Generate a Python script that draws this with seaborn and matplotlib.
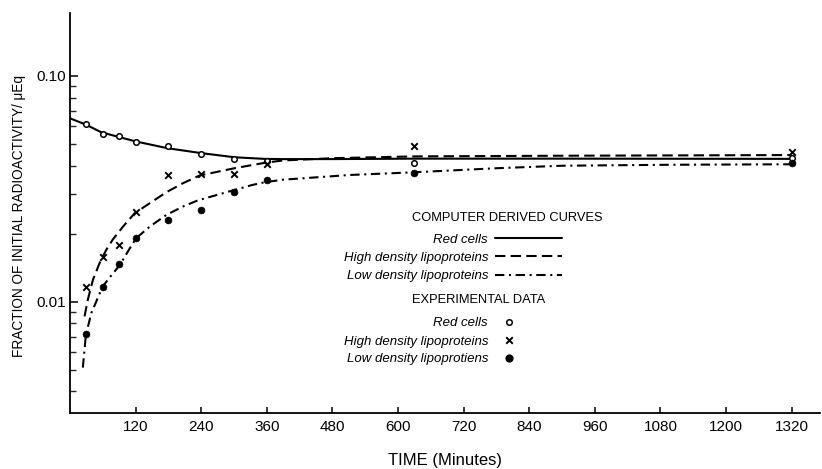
import matplotlib
matplotlib.use("Agg")
import matplotlib.pyplot as plt
import seaborn as sns
from matplotlib.ticker import FixedLocator, FixedFormatter, NullFormatter

# ---- computer derived curves ----
red_curve_t = [0, 30, 57, 91, 121, 179, 240, 301, 356, 389, 480, 630, 900, 1320]
red_curve_v = [0.0649, 0.0607, 0.0563, 0.0535, 0.0512, 0.0478, 0.0455, 0.0436,
               0.0429, 0.0428, 0.0428, 0.0430, 0.0430, 0.0429]

hdl_curve_t = [26.6, 32.6, 42, 54, 66, 78, 97, 118, 146, 176, 207, 237, 301,
               356, 389, 480, 630, 900, 1320]
hdl_curve_v = [0.0086, 0.0102, 0.0125, 0.0148, 0.0169, 0.0188, 0.0215, 0.0246,
               0.0273, 0.0305, 0.0335, 0.0362, 0.0390, 0.0412, 0.0422, 0.0432,
               0.0440, 0.0443, 0.0446]

ldl_curve_t = [23.5, 29, 39, 48, 60, 76, 91, 106, 121, 146, 176, 207, 234, 298,
               334, 356, 390, 512, 628, 781, 900, 1100, 1320]
ldl_curve_v = [0.0051, 0.0071, 0.0089, 0.0100, 0.0117, 0.0131, 0.0145, 0.0167,
               0.0191, 0.0215, 0.0242, 0.0264, 0.0281, 0.0311, 0.0329, 0.0338,
               0.0347, 0.0364, 0.0374, 0.0390, 0.0400, 0.0404, 0.0406]

# ---- experimental data ----
exp_t = [30, 60, 90, 120, 180, 240, 300, 360, 630, 1320]
red_exp = [0.0610, 0.0553, 0.0542, 0.0512, 0.0490, 0.0450, 0.0429, 0.0421, 0.0410, 0.0434]
hdl_exp = [0.0116, 0.0158, 0.0178, 0.0249, 0.0364, 0.0368, 0.0368, 0.0408, 0.0490, 0.0462]
ldl_exp = [0.0072, 0.0116, 0.0147, 0.0192, 0.0230, 0.0255, 0.0305, 0.0346, 0.0373, 0.0412]

x_ticks = [120, 240, 360, 480, 600, 720, 840, 960, 1080, 1200, 1320]
y_major = [0.01, 0.10]
y_major_labels = ["0.01", "0.10"]

sns.set_theme(style="ticks")
plt.rcParams['font.family'] = ['Liberation Sans', 'DejaVu Sans']

W, H = 822, 469
fig = plt.figure(figsize=(W / 100, H / 100), dpi=100)
AX_L, AX_R, AX_T, AX_B = 70, 820, 13, 413
ax = fig.add_axes([AX_L / W, (H - AX_B) / H, (AX_R - AX_L) / W, (AX_B - AX_T) / H])
ax.set_yscale("log")

LW = 1.5
DASH = (0, (5, 2.5))
DASHDOT = (0, (4.5, 2.2, 1.0, 2.2))

sns.lineplot(x=red_curve_t, y=red_curve_v, ax=ax, color="black", lw=LW,
             estimator=None, sort=False)
sns.lineplot(x=hdl_curve_t, y=hdl_curve_v, ax=ax, color="black", lw=LW,
             estimator=None, sort=False)
ax.lines[-1].set_linestyle(DASH)
sns.lineplot(x=ldl_curve_t, y=ldl_curve_v, ax=ax, color="black", lw=LW,
             estimator=None, sort=False)
ax.lines[-1].set_linestyle(DASHDOT)

sns.scatterplot(x=exp_t, y=red_exp, ax=ax, marker="o", s=16, facecolor="white",
                edgecolor="black", linewidth=1.1, zorder=5)
sns.scatterplot(x=exp_t, y=hdl_exp, ax=ax, marker="x", s=22, color="black",
                linewidth=1.4, zorder=5)
sns.scatterplot(x=exp_t, y=ldl_exp, ax=ax, marker="o", s=24, color="black",
                edgecolor="black", linewidth=0.5, zorder=5)

ax.set_xlim(0, 1372)
ax.set_ylim(0.00321, 0.19)

for side in ["top", "right"]:
    ax.spines[side].set_visible(False)
for side in ["left", "bottom"]:
    ax.spines[side].set_linewidth(1.3)
    ax.spines[side].set_color("black")

ax.xaxis.set_major_locator(FixedLocator(x_ticks))
ax.set_xticklabels([str(v) for v in x_ticks])
ax.xaxis.set_minor_locator(FixedLocator([]))
ax.yaxis.set_major_locator(FixedLocator(y_major))
ax.yaxis.set_major_formatter(FixedFormatter(y_major_labels))
minor = [m * d for d in (0.001, 0.01, 0.1) for m in range(2, 10)]
ax.yaxis.set_minor_locator(FixedLocator(minor))
ax.yaxis.set_minor_formatter(NullFormatter())

ax.tick_params(axis="x", which="major", direction="in", length=4, width=1.1,
               labelsize=11, pad=5, colors="black")
ax.tick_params(axis="y", which="major", direction="in", length=5.5, width=1.1,
               labelsize=11, pad=3, colors="black")
ax.tick_params(axis="y", which="minor", direction="in", length=4, width=1.0)

ax.set_xlabel("TIME (Minutes)", fontsize=12, color="black", va="center")
ax.xaxis.set_label_coords(0.5, (AX_B - 460) / (AX_B - AX_T))
ax.set_ylabel("FRACTION OF INITIAL RADIOACTIVITY/ \u03bcEq", fontsize=9.8,
              color="black", va="center")
ax.yaxis.set_label_coords((19 - AX_L) / (AX_R - AX_L), 0.4925)


def axc(px, py):
    return (px - AX_L) / (AX_R - AX_L), (AX_B - py) / (AX_B - AX_T)


# ---- legend block ----
hdr_fs = 9.3
lab_fs = 9.5
x, y = axc(412, 218)
ax.text(x, y, "COMPUTER DERIVED CURVES", transform=ax.transAxes, ha="left",
        va="center", fontsize=hdr_fs, color="black")
x, y = axc(412, 300)
ax.text(x, y, "EXPERIMENTAL DATA", transform=ax.transAxes, ha="left",
        va="center", fontsize=hdr_fs, color="black")

curve_rows = [("Red cells", 238, "-"),
              ("High density lipoproteins", 256, DASH),
              ("Low density lipoproteins", 275, DASHDOT)]
for label, py, ls in curve_rows:
    x, y = axc(488, py + 4.5)
    ax.text(x, y, label, transform=ax.transAxes, ha="right", va="baseline",
            fontsize=lab_fs, style="italic", color="black")
    x0, y0 = axc(495, py)
    x1, _ = axc(562, py)
    ax.plot([x0, x1], [y0, y0], transform=ax.transAxes, color="black", lw=LW,
            linestyle=ls, clip_on=False)

exp_rows = [("Red cells", 321.5, dict(marker="o", s=16, facecolor="white", edgecolor="black", linewidth=1.1)),
            ("High density lipoproteins", 340, dict(marker="x", s=22, color="black", linewidth=1.4)),
            ("Low density lipoprotiens", 357.5, dict(marker="o", s=24, color="black"))]
for label, py, mk in exp_rows:
    x, y = axc(488, py + 4.5)
    ax.text(x, y, label, transform=ax.transAxes, ha="right", va="baseline",
            fontsize=lab_fs, style="italic", color="black")
    mx, my = axc(509, py)
    ax.scatter([mx], [my], transform=ax.transAxes, clip_on=False, **mk)

fig.savefig("out.png", dpi=100, facecolor="white")
